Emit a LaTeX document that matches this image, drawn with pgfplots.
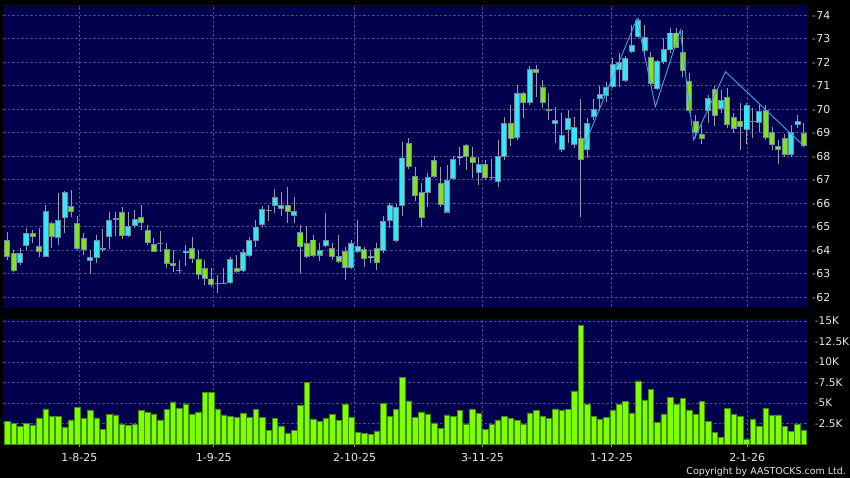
\documentclass[border=0pt]{standalone}
\usepackage{fontspec}
\setmainfont{DejaVu Sans}
\usepackage{pgfplots}
\usepackage{pgfplotstable}
\pgfplotsset{compat=1.18}
\definecolor{navy}{HTML}{00004D}
\definecolor{cyanc}{HTML}{33E8F4}
\definecolor{greenc}{HTML}{80E31F}
\definecolor{bordc}{HTML}{6F8A9A}
\definecolor{wickc}{HTML}{9A9AAE}
\definecolor{volc}{HTML}{7FFF00}
\definecolor{voldraw}{HTML}{3F8F00}
\definecolor{gridc}{HTML}{4B4B8F}
\definecolor{zzc}{HTML}{3AA6E0}
\definecolor{labc}{HTML}{E6E6E6}
\definecolor{tickdash}{HTML}{A0A0A0}

% i = trading day index, u: 1 up (cyan), 0 down (green), 2 doji
\pgfplotstableread{
i u o h l c
0 0 64.43 64.78 63.58 63.69
1 0 63.89 64.00 63.08 63.13
2 1 63.47 64.08 63.37 63.89
3 1 64.19 64.93 64.00 64.71
4 0 64.71 64.85 64.30 64.57
5 0 64.19 64.93 63.72 63.90
6 1 63.69 65.92 63.69 65.65
7 0 65.14 65.21 64.08 64.54
8 1 64.50 66.42 64.22 65.27
9 1 65.35 66.53 64.71 66.46
10 0 65.88 66.56 65.42 65.61
11 0 65.14 65.45 64.00 64.03
12 0 64.50 64.74 63.79 64.00
13 1 63.55 64.00 62.98 63.69
14 1 63.65 64.64 63.47 64.41
15 1 63.99 64.88 63.93 64.07
16 1 64.57 65.64 64.03 65.28
17 1 65.27 65.64 64.60 65.35
18 0 65.61 65.82 64.46 64.61
19 1 64.61 65.64 64.57 65.04
20 1 65.03 65.71 64.93 65.31
21 0 65.39 65.92 64.86 65.14
22 0 64.85 65.07 64.22 64.29
23 0 64.26 64.50 63.90 63.93
24 2 64.29 64.83 63.93 64.29
25 0 64.03 64.29 63.22 63.39
26 0 63.46 64.00 63.08 63.33
27 2 63.14 63.57 63.01 63.14
28 1 63.86 64.21 63.32 63.97
29 0 64.07 64.54 63.43 63.60
30 0 63.64 64.00 62.79 62.94
31 0 63.22 63.57 62.51 62.75
32 0 62.79 63.22 62.44 62.50
33 2 62.58 62.94 62.18 62.58
34 2 62.58 63.22 62.55 62.58
35 1 62.58 63.72 62.55 63.60
36 0 63.22 63.79 63.03 63.08
37 1 63.12 64.03 63.08 63.93
38 1 63.76 64.57 63.72 64.43
39 1 64.40 65.28 64.14 64.99
40 1 65.06 65.87 64.99 65.73
41 2 65.70 65.91 65.25 65.70
42 1 65.87 66.58 65.59 66.24
43 1 65.73 66.48 65.45 65.90
44 0 65.90 66.69 65.16 65.62
45 1 65.47 66.24 65.16 65.66
46 0 64.78 65.06 63.01 64.14
47 0 64.31 65.02 63.65 63.69
48 0 64.45 64.64 63.72 63.74
49 1 63.77 64.31 63.55 64.00
50 1 64.17 65.56 64.14 64.43
51 0 64.07 64.28 63.57 63.72
52 0 63.76 64.64 63.43 63.48
53 0 63.96 64.14 62.72 63.22
54 1 63.22 64.42 63.18 64.31
55 1 63.90 65.30 63.86 64.18
56 0 64.03 64.14 63.29 63.60
57 1 63.67 64.00 63.43 63.76
58 0 64.07 64.28 63.15 63.43
59 1 63.97 65.45 63.86 65.25
60 1 65.25 65.99 64.92 65.90
61 1 64.40 65.96 64.35 65.84
62 1 65.87 68.61 65.45 67.94
63 0 68.57 68.79 67.47 67.52
64 0 67.16 67.52 66.10 66.31
65 0 66.48 66.84 64.99 65.35
66 1 66.41 67.29 65.84 67.12
67 0 67.82 68.00 67.05 67.12
68 0 66.86 67.52 65.84 65.94
69 1 65.60 67.62 65.56 66.98
70 1 67.02 68.00 66.98 67.86
71 1 67.90 68.40 67.62 68.00
72 0 68.48 68.50 67.40 67.97
73 0 67.97 68.40 67.05 67.69
74 1 67.26 67.94 66.77 67.66
75 0 67.66 67.83 66.98 67.05
76 2 67.08 67.86 66.98 67.08
77 1 66.88 68.68 66.67 68.00
78 1 67.97 69.65 67.85 69.42
79 0 69.42 70.17 68.43 68.72
80 1 68.75 71.02 68.68 70.70
81 0 70.70 70.74 69.64 70.24
82 1 70.24 71.83 70.17 71.69
83 0 71.69 71.87 70.52 71.55
84 0 70.95 71.23 70.03 70.27
85 2 69.96 70.67 69.53 69.96
86 1 69.35 70.10 68.54 69.52
87 1 68.24 69.82 68.18 68.88
88 1 69.13 69.96 68.54 69.63
89 1 68.47 69.67 68.33 69.25
90 0 68.78 70.45 65.39 67.83
91 1 68.28 69.61 67.90 69.42
92 1 69.65 70.43 69.54 69.99
93 1 70.43 71.00 69.92 70.64
94 1 70.57 71.14 70.32 70.96
95 1 70.96 72.16 70.91 71.90
96 1 71.66 72.37 70.96 71.99
97 1 71.20 72.27 71.14 72.19
98 1 72.44 73.58 72.37 72.73
99 1 73.08 73.86 73.01 73.79
100 1 72.49 73.58 72.30 73.05
101 0 72.20 72.44 71.02 71.05
102 1 70.84 72.08 70.81 72.06
103 1 71.99 73.01 71.94 72.54
104 1 72.51 73.43 72.37 73.26
105 0 73.26 73.43 72.58 72.62
106 0 72.41 73.36 71.38 71.62
107 0 71.20 71.52 69.82 69.93
108 0 69.50 69.74 68.75 68.99
109 0 68.96 69.32 68.51 68.72
110 1 69.91 70.60 69.39 70.48
111 0 70.84 70.98 69.28 69.70
112 1 69.99 70.81 69.82 70.38
113 0 70.53 70.88 69.18 69.32
114 0 69.65 69.82 68.99 69.15
115 0 69.50 70.24 68.25 69.22
116 1 69.11 70.24 68.51 70.17
117 2 69.49 70.03 68.75 69.49
118 1 69.39 70.17 69.04 69.91
119 0 69.96 70.17 68.68 68.78
120 0 69.03 69.25 68.25 68.47
121 0 68.44 68.68 67.66 68.28
122 0 68.78 68.96 67.97 68.04
123 1 68.04 69.32 67.97 69.03
124 1 69.32 69.74 69.18 69.50
125 0 68.99 69.42 68.40 68.42
}\candles

% volume in thousands
\pgfplotstableread{
i v
0 2.76
1 2.52
2 2.11
3 2.52
4 2.32
5 3.17
6 4.27
7 3.33
8 3.41
9 2.03
10 2.93
11 4.47
12 3.13
13 4.15
14 3.17
15 1.79
16 3.62
17 3.54
18 2.36
19 2.24
20 2.44
21 4.07
22 3.82
23 3.66
24 2.93
25 4.19
26 5.12
27 4.31
28 4.88
29 3.66
30 3.90
31 6.30
32 6.26
33 4.27
34 3.54
35 3.33
36 3.25
37 3.78
38 3.21
39 4.23
40 3.21
41 1.63
42 3.09
43 2.20
44 1.34
45 1.67
46 4.72
47 7.48
48 3.05
49 2.72
50 3.13
51 3.62
52 2.89
53 4.84
54 3.25
55 1.38
56 1.34
57 1.18
58 1.59
59 4.96
60 3.33
61 4.19
62 8.13
63 5.24
64 3.25
65 3.90
66 3.66
67 2.56
68 1.95
69 3.54
70 3.33
71 4.07
72 2.44
73 4.27
74 3.70
75 1.75
76 2.36
77 2.93
78 3.41
79 3.13
80 2.85
81 2.44
82 3.78
83 4.07
84 3.33
85 3.13
86 4.27
87 4.07
88 4.23
89 6.46
90 14.43
91 4.88
92 3.41
93 3.05
94 3.29
95 4.15
96 4.80
97 5.20
98 3.78
99 7.68
100 5.37
101 6.63
102 2.68
103 3.66
104 5.69
105 4.80
106 5.57
107 4.15
108 3.62
109 5.20
110 2.76
111 1.46
112 0.81
113 4.35
114 3.58
115 3.33
116 0.61
117 3.05
118 2.20
119 4.35
120 3.46
121 3.54
122 2.11
123 1.54
124 2.36
125 1.71
}\volumes

\begin{document}
\begin{tikzpicture}
\useasboundingbox (0,0) rectangle (850bp,-478bp);
\fill[black] (0,0) rectangle (850bp,-478bp);
\begin{axis}[
  at={(3bp,-5bp)}, anchor=north west, scale only axis,
  width=804.7bp, height=301.7bp,
  xmin=-0.68, xmax=125.6, ymin=61.59, ymax=74.43,
  axis background/.style={fill=navy},
  axis line style={draw=none},
  xtick={11.3,32.4,54.5,74.55,94.8,116.1}, xticklabels={},
  ytick={62,63,...,74},
  xmajorgrids, ymajorgrids,
  grid style={gridc, line width=0.6bp, dash pattern=on 2.5bp off 2bp},
  major tick length=0pt, tick style={draw=none},
  ytick pos=right, yticklabel pos=right,
  /pgf/number format/assume math mode=true,
  yticklabel={\textcolor{tickdash}{-}\hspace{0.6bp}\pgfmathprintnumber{\tick}},
  yticklabel style={font=\fontsize{11}{13}\selectfont, text=labc, inner sep=0pt, anchor=west, xshift=4bp},
]
% wicks
\addplot[wickc, line width=1bp, forget plot,
  quiver={u=0, v={\thisrow{h}-\thisrow{l}}, every arrow/.append style={-}}]
  table[x=i, y=l] {\candles};
% body borders (all candles, at least ~1px tall)
\addplot[bordc, line width=6bp, forget plot,
  quiver={u=0, v={max(abs(\thisrow{c}-\thisrow{o}),0.05)}, every arrow/.append style={-}}]
  table[x=i, y expr={(\thisrow{o}+\thisrow{c})/2-max(abs(\thisrow{c}-\thisrow{o}),0.05)/2}] {\candles};
% up bodies (cyan)
\addplot[cyanc, line width=4.1bp, forget plot,
  quiver={u=0, v={(\thisrow{u}==1)*max(abs(\thisrow{c}-\thisrow{o})-0.084,0)}, every arrow/.append style={-}}]
  table[x=i, y expr={min(\thisrow{o},\thisrow{c})+0.042}] {\candles};
% down bodies (green)
\addplot[greenc, line width=4.1bp, forget plot,
  quiver={u=0, v={(\thisrow{u}==0)*max(abs(\thisrow{c}-\thisrow{o})-0.084,0)}, every arrow/.append style={-}}]
  table[x=i, y expr={min(\thisrow{o},\thisrow{c})+0.042}] {\candles};
% zigzag
\addplot[zzc, line width=0.9bp, mark=none] coordinates {
  (90.4,68.35) (98.8,73.84) (101.7,70.10) (105.6,73.36) (107.7,68.68) (112.7,71.59) (125,68.43)};
\end{axis}

\begin{axis}[
  at={(3bp,-319bp)}, anchor=north west, scale only axis,
  width=804.7bp, height=125bp,
  xmin=-0.68, xmax=125.6, ymin=0, ymax=15.23,
  axis background/.style={fill=navy},
  axis line style={draw=none},
  xtick={11.3,32.4,54.5,74.55,94.8,116.1},
  xticklabels={1-8-25,1-9-25,2-10-25,3-11-25,1-12-25,2-1-26},
  ytick={2.5,5,7.5,10,12.5,15},
  yticklabels={\textcolor{tickdash}{-}2.5K,\textcolor{tickdash}{-}5K,\textcolor{tickdash}{-}7.5K,\textcolor{tickdash}{-}10K,\textcolor{tickdash}{-}12.5K,\textcolor{tickdash}{-}15K},
  xmajorgrids, ymajorgrids,
  grid style={gridc, line width=0.6bp, dash pattern=on 2.5bp off 2bp},
  ytick pos=right, yticklabel pos=right, xtick pos=bottom,
  ytick style={draw=none},
  xtick style={tickdash, line width=0.8bp},
  tick align=outside, major tick length=3bp,
  yticklabel style={font=\fontsize{10.6}{13}\selectfont, text=labc, inner sep=0pt, anchor=west, xshift=4bp},
  xticklabel style={font=\fontsize{11}{13}\selectfont, text=labc, inner sep=0pt, anchor=north, yshift=-6bp},
]
\addplot[ybar, bar width=0.86, fill=volc, draw=voldraw, line width=0.6bp] table[x=i, y=v] {\volumes};
\end{axis}
\node[anchor=base east, text=labc, font=\fontsize{9.5}{11}\selectfont, inner sep=0pt] at (846bp,-474.5bp) {Copyright by AASTOCKS.com Ltd.};
\end{tikzpicture}
\end{document}
